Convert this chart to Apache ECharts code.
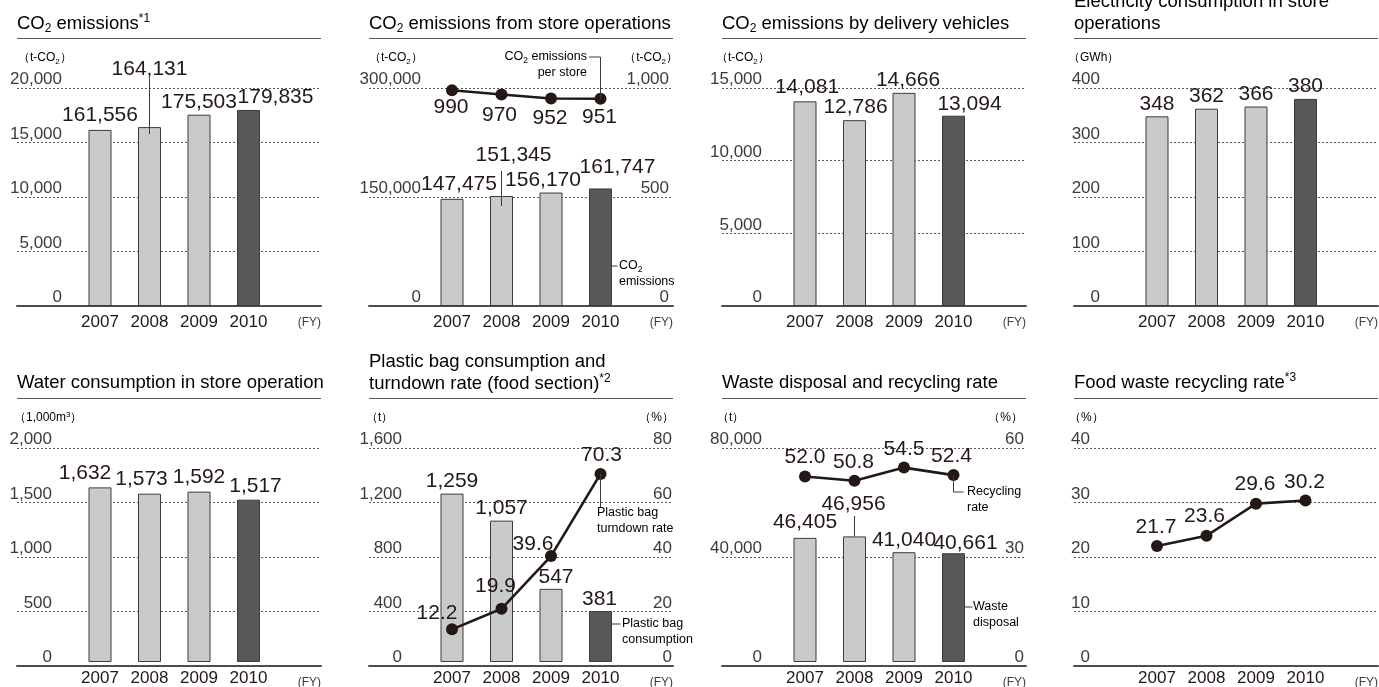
<!DOCTYPE html>
<html>
<head>
<meta charset="utf-8">
<title>Environmental data</title>
<script src="https://cdn.jsdelivr.net/npm/echarts@6/dist/echarts.min.js"></script>
<style>
  html, body { margin: 0; padding: 0; background: #fff; }
  #chart { width: 1379px; height: 687px; }
</style>
</head>
<body>
<div id="chart"></div>
<script>
  // ---- data ----
  const years = ['2007', '2008', '2009', '2010'];

  const co2Total = [161556, 164131, 175503, 179835];           // t-CO2
  const co2TotalTicks = ['0', '5,000', '10,000', '15,000', '20,000'];

  const co2Store = [147475, 151345, 156170, 161747];           // t-CO2
  const co2PerStore = [990, 970, 952, 951];                    // t-CO2
  const co2StoreTicks = ['0', '150,000', '300,000'];
  const co2PerStoreTicks = ['0', '500', '1,000'];

  const co2Delivery = [14081, 12786, 14666, 13094];            // t-CO2
  const co2DeliveryTicks = ['0', '5,000', '10,000', '15,000'];

  const electricity = [348, 362, 366, 380];                    // GWh
  const electricityTicks = ['0', '100', '200', '300', '400'];

  const water = [1632, 1573, 1592, 1517];                      // 1,000m3
  const waterTicks = ['0', '500', '1,000', '1,500', '2,000'];

  const plasticBags = [1259, 1057, 547, 381];                  // t
  const turndownRate = [12.2, 19.9, 39.6, 70.3];               // %
  const plasticBagTicks = ['0', '400', '800', '1,200', '1,600'];
  const turndownTicks = ['0', '20', '40', '60', '80'];

  const wasteDisposal = [46405, 46956, 41040, 40661];          // t
  const recyclingRate = [52.0, 50.8, 54.5, 52.4];              // %
  const wasteTicks = ['0', '40,000', '80,000'];
  const recyclingTicks = ['0', '30', '60'];

  const foodRecycling = [21.7, 23.6, 29.6, 30.2];              // %
  const foodTicks = ['0', '10', '20', '30', '40'];

  // ---- style ----
  const FONT = 'Liberation Sans, Arial, sans-serif';
  const TEXT = '#231815';
  const GREY = '#3e3a39';
  const BAR_LIGHT = '#c9caca';
  const BAR_DARK = '#595757';
  const PANEL_W = 304;
  const PLOT_H = 218;

  // label nudges (px) so the numbers sit like in the printed report
  const panels = [
    { left: 17, top: 88, left_axis: { max: 200000, interval: 50000, ticks: co2TotalTicks, margin: 45 },
      bars: co2Total, barShift: [[0, -2], [0, -45], [0, 0], [27, 0]] },
    { left: 369, top: 88, left_axis: { max: 300000, interval: 150000, ticks: co2StoreTicks, margin: 52 },
      right_axis: { max: 1000, interval: 500, ticks: co2PerStoreTicks, margin: 4 },
      bars: co2Store, barShift: [[7, -2], [12, -28], [-8, 0], [17, -9]],
      line: co2PerStore, dec: 0, linePos: 'bottom', lineShift: [[-1, -1], [-2, 2], [-1, 1], [-1, 0]] },
    { left: 722, top: 88, left_axis: { max: 15000, interval: 5000, ticks: co2DeliveryTicks, margin: 40 },
      bars: co2Delivery, barShift: [[2, -2], [1, 0], [4, 0], [16, 1]] },
    { left: 1074, top: 88, left_axis: { max: 400, interval: 100, ticks: electricityTicks, margin: 26 },
      bars: electricity, barShift: [[0, 0], [0, 0], [0, 0], [0, 0]] },
    { left: 17, top: 448, left_axis: { max: 2000, interval: 500, ticks: waterTicks, margin: 35 },
      bars: water, barShift: [[-15, -2], [-8, -2], [0, -2], [7, -1]] },
    { left: 369, top: 448, left_axis: { max: 1600, interval: 400, ticks: plasticBagTicks, margin: 33 },
      right_axis: { max: 80, interval: 20, ticks: turndownTicks, margin: 1 },
      bars: plasticBags, barShift: [[0, 0], [0, 0], [5, 1], [-1, 1]],
      line: turndownRate, dec: 1, linePos: 'top', lineShift: [[-15, 2], [-6, -4], [-18, 7], [1, 0]] },
    { left: 722, top: 448, left_axis: { max: 80000, interval: 40000, ticks: wasteTicks, margin: 40 },
      right_axis: { max: 60, interval: 30, ticks: recyclingTicks, margin: 2 },
      bars: wasteDisposal, barShift: [[0, -3], [-1, -20], [0, 0], [12, 2]],
      line: recyclingRate, dec: 1, linePos: 'top', lineShift: [[0, -1], [-1, 0], [0, 0], [-2, 0]] },
    { left: 1074, top: 448, left_axis: { max: 40, interval: 10, ticks: foodTicks, margin: 16 },
      line: foodRecycling, dec: 1, linePos: 'top', lineShift: [[-1, 0], [-2, -1], [-1, -1], [-1, 0]] }
  ];

  const grid = [], xAxis = [], yAxis = [], series = [];

  function valueAxis(gridIndex, position, cfg, visible) {
    return {
      gridIndex, type: 'value', position, min: 0, max: cfg.max, interval: cfg.interval,
      axisLine: { show: false }, axisTick: { show: false },
      splitLine: { show: visible && position === 'left', lineStyle: { color: '#595757', type: [2, 2], width: 1 } },
      axisLabel: visible ? {
        show: true, inside: true, align: 'right', verticalAlign: 'bottom', margin: cfg.margin,
        fontSize: 17, color: GREY, fontFamily: FONT,
        formatter: (v, i) => cfg.ticks[i]
      } : { show: false }
    };
  }

  panels.forEach(p => {
    const gA = grid.length;
    // frame grid: dashed lines, tick labels and baseline across the whole panel
    grid.push({ left: p.left, top: p.top, width: PANEL_W, height: PLOT_H });
    // plot grid: the four fiscal years
    grid.push({ left: p.left + 58.25, top: p.top, width: 198, height: PLOT_H });

    xAxis.push({ gridIndex: gA, type: 'value', min: 0, max: 1,
      axisLine: { show: true, lineStyle: { color: '#4d4d4d', width: 2 } },
      axisTick: { show: false }, axisLabel: { show: false }, splitLine: { show: false } });
    const xB = xAxis.length;
    xAxis.push({ gridIndex: gA + 1, type: 'category', data: years,
      axisLine: { show: false }, axisTick: { show: false },
      axisLabel: { fontSize: 17, color: TEXT, fontFamily: FONT, margin: 8 } });

    yAxis.push(valueAxis(gA, 'left', p.left_axis, true));
    if (p.right_axis) yAxis.push(valueAxis(gA, 'right', p.right_axis, true));
    const yBL = yAxis.length;
    yAxis.push(valueAxis(gA + 1, 'left', p.left_axis, false));
    let yBR = yBL;
    if (p.right_axis) { yBR = yAxis.length; yAxis.push(valueAxis(gA + 1, 'right', p.right_axis, false)); }

    if (p.bars) {
      p.barSeries = series.length;
      series.push({
        type: 'bar', xAxisIndex: xB, yAxisIndex: yBL, barWidth: 23,
        data: p.bars.map((v, i) => ({ value: v, label: { offset: p.barShift[i] } })),
        itemStyle: {
          color: d => d.dataIndex === 3 ? BAR_DARK : BAR_LIGHT,
          borderColor: GREY, borderWidth: 1
        },
        label: { show: true, position: 'top', distance: 2, fontSize: 21, color: TEXT, fontFamily: FONT,
          formatter: d => d.value.toLocaleString('en-US') }
      });
    }
    if (p.line) {
      p.lineSeries = series.length;
      series.push({
        type: 'line', xAxisIndex: xB, yAxisIndex: p.right_axis ? yBR : yBL,
        data: p.line.map((v, i) => ({ value: v, label: { offset: p.lineShift[i] } })),
        symbol: 'circle', symbolSize: 12, z: 5,
        lineStyle: { color: TEXT, width: 2.6 }, itemStyle: { color: TEXT },
        label: { show: true, position: p.linePos, distance: 2, fontSize: 21, color: TEXT, fontFamily: FONT,
          formatter: d => d.value.toFixed(p.dec) }
      });
    }
  });

  const chart = echarts.init(document.getElementById('chart'), null, { renderer: 'canvas' });
  chart.setOption({ animation: false, backgroundColor: '#fff', grid, xAxis, yAxis, series });

  // ---- titles, units and notes ----
  const rich = {
    n: { fontSize: 18.5, fontFamily: FONT, color: TEXT, lineHeight: 22 },
    s: { fontSize: 12, fontFamily: FONT, color: TEXT, lineHeight: 12, verticalAlign: 'bottom' },
    p: { fontSize: 12, fontFamily: FONT, color: TEXT, lineHeight: 12, verticalAlign: 'top' }
  };
  const smallRich = {
    n: { fontSize: 12, fontFamily: FONT, color: GREY, lineHeight: 15 },
    s: { fontSize: 8, fontFamily: FONT, color: GREY, lineHeight: 8, verticalAlign: 'bottom' },
    u: { fontSize: 8, fontFamily: FONT, color: GREY, lineHeight: 8, verticalAlign: 'top' }
  };
  const noteRich = {
    n: { fontSize: 12.5, fontFamily: FONT, color: GREY, lineHeight: 16 },
    s: { fontSize: 8.5, fontFamily: FONT, color: GREY, lineHeight: 8, verticalAlign: 'bottom' }
  };

  const titles = [
    [17, 24, '{n|CO}{s|2}{n| emissions}{p|*1}'],
    [369, 24, '{n|CO}{s|2}{n| emissions from store operations}'],
    [722, 24, '{n|CO}{s|2}{n| emissions by delivery vehicles}'],
    [1074, 13, '{n|Electricity consumption in store}\n{n|operations}'],
    [17, 383, '{n|Water consumption in store operation}'],
    [369, 372.5, '{n|Plastic bag consumption and}\n{n|turndown rate (food section)}{p|*2}'],
    [722, 383, '{n|Waste disposal and recycling rate}'],
    [1074, 383, '{n|Food waste recycling rate}{p|*3}']
  ];
  const units = [
    [18, 58, 'left', '{n|（t-CO}{s|2}{n|）}'],
    [369, 58, 'left', '{n|（t-CO}{s|2}{n|）}'],
    [678, 58, 'right', '{n|（t-CO}{s|2}{n|）}'],
    [716, 58, 'left', '{n|（t-CO}{s|2}{n|）}'],
    [1068, 58, 'left', '{n|（GWh）}'],
    [14, 418, 'left', '{n|（1,000m}{u|3}{n|）}'],
    [366, 418, 'left', '{n|（t）}'],
    [674, 418, 'right', '{n|（%）}'],
    [717, 418, 'left', '{n|（t）}'],
    [1023, 418, 'right', '{n|（%）}'],
    [1069, 418, 'left', '{n|（%）}']
  ];
  const notes = [
    [587, 49, 'right', '{n|CO}{s|2}{n| emissions}\n{n|per store}'],
    [619, 258, 'left', '{n|CO}{s|2}\n{n|emissions}'],
    [597, 505, 'left', '{n|Plastic bag}\n{n|turndown rate}'],
    [622, 616, 'left', '{n|Plastic bag}\n{n|consumption}'],
    [967, 484, 'left', '{n|Recycling}\n{n|rate}'],
    [973, 599, 'left', '{n|Waste}\n{n|disposal}']
  ];

  const graphic = [];
  titles.forEach(t => graphic.push({ type: 'text', x: t[0], y: t[1],
    style: { text: t[2], rich, textAlign: 'left', textVerticalAlign: 'middle' } }));
  panels.forEach(p => {
    const ruleY = p.top < 200 ? 38.5 : 398.5;
    graphic.push({ type: 'line', shape: { x1: p.left, y1: ruleY, x2: p.left + PANEL_W, y2: ruleY },
      style: { stroke: '#595757', lineWidth: 1 } });
    graphic.push({ type: 'text', x: p.left + PANEL_W, y: p.top + PLOT_H + 17,
      style: { text: '(FY)', font: '12px ' + FONT, fill: GREY, textAlign: 'right', textVerticalAlign: 'middle' } });
  });
  units.forEach(u => graphic.push({ type: 'text', x: u[0], y: u[1],
    style: { text: u[3], rich: smallRich, textAlign: u[2], textVerticalAlign: 'middle' } }));
  notes.forEach(n => graphic.push({ type: 'text', x: n[0], y: n[1],
    style: { text: n[3], rich: noteRich, textAlign: n[2], textVerticalAlign: 'top' } }));

  // leader lines, anchored on the marks they point at
  const at = (s, i, v) => chart.convertToPixel({ seriesIndex: s }, [i, v]);
  const lead = pts => graphic.push({ type: 'polyline', shape: { points: pts },
    style: { stroke: GREY, lineWidth: 1, fill: null }, z: 10 });

  const p1 = panels[0], p2 = panels[1], p6 = panels[5], p7 = panels[6];
  let a = at(p1.barSeries, 1, co2Total[1]);
  lead([[a[0], 78], [a[0], a[1] + 7]]);
  a = at(p2.barSeries, 1, co2Store[1]);
  lead([[a[0], 171], [a[0], a[1] + 10]]);
  a = at(p2.lineSeries, 3, co2PerStore[3]);
  lead([[589, 57], [a[0], 57], [a[0], a[1]]]);
  a = at(p2.barSeries, 3, co2Store[3]);
  lead([[a[0] + 11.5, 266], [a[0] + 17, 266]]);
  a = at(p6.lineSeries, 3, turndownRate[3]);
  lead([[a[0], a[1]], [a[0], 507]]);
  a = at(p6.barSeries, 3, plasticBags[3]);
  lead([[a[0] + 11.5, 624], [a[0] + 20, 624]]);
  a = at(p7.barSeries, 1, wasteDisposal[1]);
  lead([[a[0], 516], [a[0], a[1]]]);
  a = at(p7.lineSeries, 3, recyclingRate[3]);
  lead([[a[0], a[1]], [a[0], 492], [a[0] + 10, 492]]);
  a = at(p7.barSeries, 3, wasteDisposal[3]);
  lead([[a[0] + 11.5, 607], [a[0] + 19, 607]]);

  chart.setOption({ graphic });
  window.addEventListener('resize', () => chart.resize());
</script>
</body>
</html>
